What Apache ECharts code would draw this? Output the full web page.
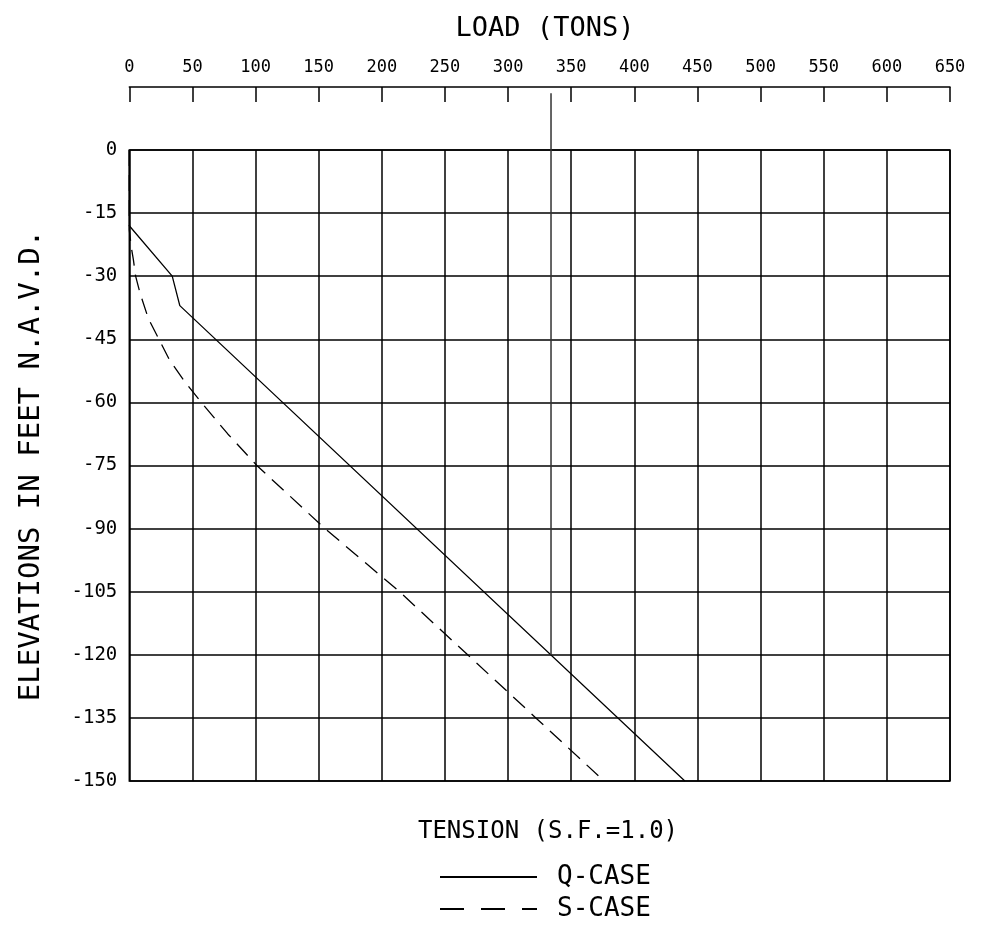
<!DOCTYPE html>
<html>
<head>
<meta charset="utf-8">
<script src="https://cdn.jsdelivr.net/npm/echarts@6.0.0/dist/echarts.min.js"></script>
<style>
  html, body { margin: 0; padding: 0; background: #fff; }
  #chart { width: 993px; height: 939px; }
</style>
</head>
<body>
<div id="chart"></div>
<script>
// ---- data ----
const qLoad = [0, 0, 34, 40, 440];
const qElev = [0, -18, -30, -37, -150];

const sLoad = [0, 0, 1.5, 3.2, 5, 8.5, 15, 23, 32, 45, 57, 78, 101, 155, 214, 268, 322, 376];
const sElev = [0, -19, -23, -26, -30, -34, -40, -44.7, -50, -55.5, -60, -67.5, -75, -90, -105, -120, -135, -150];

const markerLoad = [334, 334];
const markerElev = [13.5, -120];

const seriesNames = ['Q-CASE', 'S-CASE'];
const titleTop = 'LOAD (TONS)';
const titleBottom = 'TENSION (S.F.=1.0)';
const yName = 'ELEVATIONS IN FEET N.A.V.D.';

const zip = (a, b) => a.map((v, i) => [v, b[i]]);
const FONT = 'DejaVu Sans Mono';

const chart = echarts.init(document.getElementById('chart'), null, { renderer: 'canvas' });
chart.setOption({
  backgroundColor: '#ffffff',
  animation: false,
  textStyle: { fontFamily: FONT, color: '#000' },
  title: [
    { text: titleTop, left: 540, top: 10, textAlign: 'center',
      textStyle: { fontFamily: FONT, fontSize: 27, fontWeight: 'normal', color: '#000' } },
    { text: titleBottom, left: 543, top: 815, textAlign: 'center',
      textStyle: { fontFamily: FONT, fontSize: 24, fontWeight: 'normal', color: '#000' } }
  ],
  legend: {
    show: true,
    orient: 'vertical',
    left: 434,
    top: 859,
    itemWidth: 97,
    itemHeight: 14,
    itemGap: 6,
    itemStyle: { opacity: 0, borderWidth: 0 },
    data: [
      { name: seriesNames[0] },
      { name: seriesNames[1], lineStyle: { type: [24, 17] } }
    ],
    textStyle: { fontFamily: FONT, fontSize: 26, color: '#000', padding: [0, 0, 0, 15] }
  },
  grid: {
    left: 129.3, right: 43, top: 150, bottom: 158,
    show: true, borderColor: '#000', borderWidth: 1.5, backgroundColor: 'transparent'
  },
  xAxis: {
    type: 'value', position: 'top', offset: 63,
    min: 0, max: 650, interval: 50,
    axisLine: { show: true, onZero: false, lineStyle: { color: '#000', width: 1.5 } },
    axisTick: { show: true, inside: true, length: 15, lineStyle: { color: '#000', width: 1.5 } },
    axisLabel: { margin: 11, fontFamily: FONT, fontSize: 17, color: '#000' },
    splitLine: { show: true, lineStyle: { color: '#000', width: 1.5 } }
  },
  yAxis: {
    type: 'value', min: -150, max: 0, interval: 15,
    name: yName, nameLocation: 'middle', nameRotate: 90, nameGap: 83,
    nameTextStyle: { fontFamily: FONT, fontSize: 29, color: '#000' },
    axisLine: { show: false },
    axisTick: { show: false },
    axisLabel: { margin: 12, fontFamily: FONT, fontSize: 19, color: '#000' },
    splitLine: { show: true, lineStyle: { color: '#000', width: 1.5 } }
  },
  series: [
    { name: seriesNames[0], type: 'line', data: zip(qLoad, qElev), symbol: 'none',
      lineStyle: { color: '#000', width: 1.3, type: 'solid' }, itemStyle: { color: '#000' } },
    { name: seriesNames[1], type: 'line', data: zip(sLoad, sElev), symbol: 'none',
      lineStyle: { color: '#000', width: 1.3, type: [16, 9] }, itemStyle: { color: '#000' } },
    { name: 'marker', type: 'line', data: zip(markerLoad, markerElev), symbol: 'none', clip: false,
      lineStyle: { color: '#333', width: 1.5 }, itemStyle: { color: '#333' }, z: 3 }
  ]
});
</script>
</body>
</html>
